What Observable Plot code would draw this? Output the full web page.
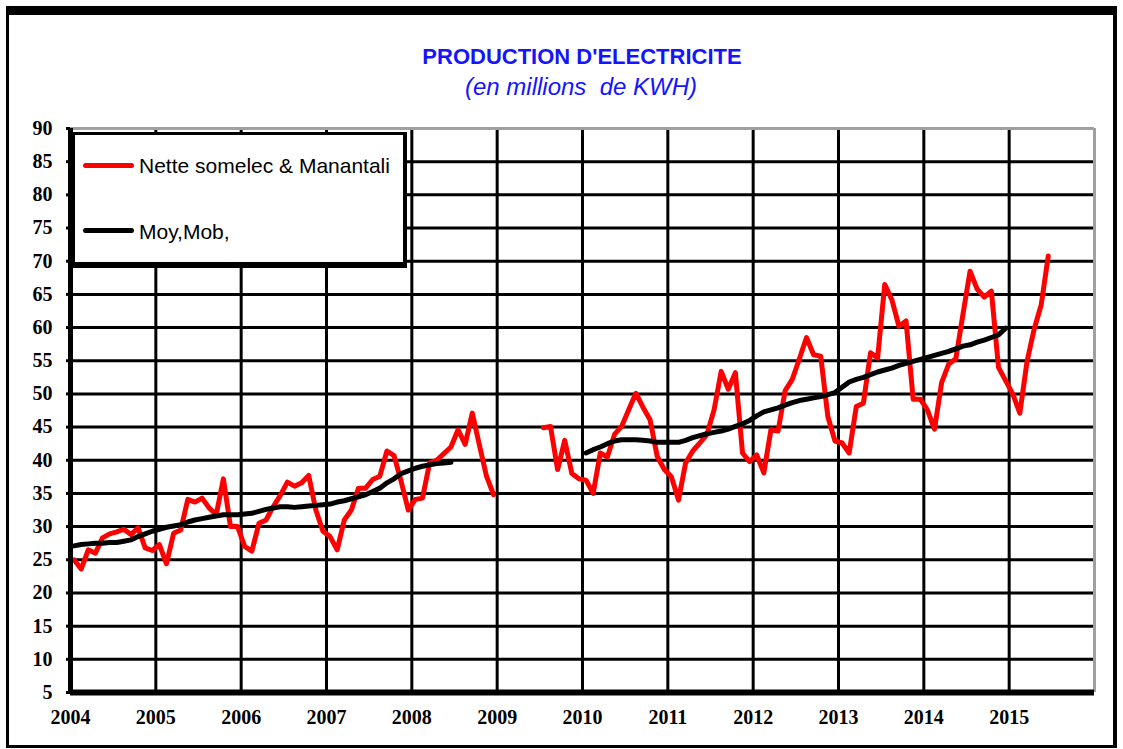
<!DOCTYPE html>
<html><head><meta charset="utf-8">
<script src="https://cdn.jsdelivr.net/npm/d3@7"></script>
<script src="https://cdn.jsdelivr.net/npm/@observablehq/plot@0.6"></script>
<style>
html,body{margin:0;padding:0;background:#fff;}
#page{position:relative;width:1123px;height:749px;overflow:hidden;background:#fff;}
#frame{position:absolute;left:6px;top:6px;width:1111px;height:742px;box-sizing:border-box;border-style:solid;border-color:#000;border-width:9px 4px 3px 3px;}
#title{position:absolute;left:0;width:1164px;top:46px;text-align:center;font:bold 22px/1 "Liberation Sans",Arial,sans-serif;color:#1414ff;white-space:pre;}
#subtitle{position:absolute;left:0;width:1162px;top:75px;text-align:center;font:italic 24px/1 "Liberation Sans",Arial,sans-serif;color:#1414ff;white-space:pre;}
#chart{position:absolute;left:0;top:100px;}
#legend{position:absolute;left:72px;top:132px;width:335px;height:136px;box-sizing:border-box;background:#fff;border-style:solid;border-color:#000;border-width:3px 4px 6px 3px;}
.swatch{position:absolute;left:83px;width:51px;height:5px;border-radius:3px;}
.ltext{position:absolute;left:139px;font:21px/1 "Liberation Sans",Arial,sans-serif;color:#000;white-space:pre;}
</style></head>
<body>
<div id="page">
  <div id="frame"></div>
  <div id="title">PRODUCTION D'ELECTRICITE</div>
  <div id="subtitle">(en millions  de KWH)</div>
  <div id="chart"></div>
  <div id="legend"></div>
  <div class="swatch" style="top:163px;background:#ff0000;"></div>
  <div class="ltext" style="top:155px;">Nette somelec &amp; Manantali</div>
  <div class="swatch" style="top:228px;background:#000;"></div>
  <div class="ltext" style="top:221px;">Moy,Mob,</div>
</div>
<script>
// Monthly values, January 2004 onward (null = no data)
const firstYear = 2004;
const years = [2004, 2005, 2006, 2007, 2008, 2009, 2010, 2011, 2012, 2013, 2014, 2015];
const yTicks = [5, 10, 15, 20, 25, 30, 35, 40, 45, 50, 55, 60, 65, 70, 75, 80, 85, 90];

// "Nette somelec & Manantali" (Jan 2004 – Jun 2015)
const nette = [
  25.0, 23.6, 26.5, 26.0, 28.3, 28.9, 29.2, 29.6, 28.8, 29.8, 26.8, 26.4,
  27.3, 24.4, 29.0, 29.5, 34.1, 33.7, 34.3, 32.8, 31.8, 37.2, 30.0, 30.0,
  27.0, 26.3, 30.5, 31.0, 33.0, 34.7, 36.7, 36.1, 36.6, 37.7, 32.5, 29.3,
  28.5, 26.5, 31.0, 32.5, 35.8, 35.8, 37.1, 37.6, 41.4, 40.7, 36.8, 32.5,
  34.1, 34.3, 39.6, 40.0, 41.0, 42.0, 44.6, 42.4, 47.1, 42.3, 37.6, 34.8,
  null, null, null, null, null, null, 44.9, 45.1, 38.6, 43.0, 38.0, 37.2,
  37.0, 35.0, 41.1, 40.5, 43.9, 45.1, 47.6, 50.1, 48.0, 46.1, 40.6, 38.6,
  37.5, 34.0, 39.6, 41.4, 42.6, 43.9, 47.6, 53.4, 50.7, 53.2, 41.1, 39.8,
  40.8, 38.1, 44.6, 44.4, 50.5, 52.2, 55.3, 58.5, 55.9, 55.7, 46.6, 42.9,
  42.6, 41.1, 48.1, 48.6, 56.2, 55.4, 66.5, 64.2, 60.2, 61.0, 49.2, 49.2,
  47.6, 44.7, 51.7, 54.5, 55.3, 62.0, 68.5, 65.8, 64.6, 65.5, 54.0, 52.0,
  50.0, 47.1, 54.8, 59.7, 63.4, 70.8
];

// "Moy,Mob," moving average (Jan 2004 – Dec 2014)
const moyMob = [
  27.1, 27.3, 27.4, 27.5, 27.5, 27.6, 27.6, 27.8, 28.0, 28.5, 28.9, 29.3,
  29.6, 29.9, 30.1, 30.3, 30.7, 31.0, 31.2, 31.4, 31.6, 31.8, 31.8, 31.8,
  31.9, 32.0, 32.3, 32.6, 32.8, 33.0, 33.0, 32.9, 33.0, 33.1, 33.2, 33.3,
  33.4, 33.7, 33.9, 34.2, 34.5, 34.8, 35.3, 35.8, 36.6, 37.2, 38.0, 38.4,
  38.8, 39.1, 39.3, 39.5, 39.6, 39.7, null, null, null, null, null, null,
  null, null, null, null, null, null, null, null, null, null, null, null,
  41.1, 41.6, 42.0, 42.5, 42.9, 43.1, 43.1, 43.1, 43.0, 42.9, 42.7, 42.7,
  42.7, 42.7, 43.0, 43.4, 43.7, 44.0, 44.2, 44.4, 44.7, 45.1, 45.5, 46.0,
  46.7, 47.3, 47.6, 47.9, 48.3, 48.7, 49.0, 49.2, 49.4, 49.6, 49.9, 50.2,
  51.0, 51.8, 52.2, 52.5, 52.9, 53.3, 53.6, 53.9, 54.3, 54.6, 54.9, 55.2,
  55.5, 55.8, 56.1, 56.4, 56.8, 57.2, 57.4, 57.8, 58.1, 58.5, 58.9, 59.9
];

// position each monthly value at mid-month
const toRows = arr => arr.map((v, i) => ({t: firstYear + (i + 0.5) / 12, v}));
const netteRows = toRows(nette);
const moyRows = toRows(moyMob);

const axisFont = {fontSize: 20, fontWeight: "bold", fontFamily: "Liberation Serif, Times New Roman, serif"};

const chart = Plot.plot({
  width: 1123,
  height: 640,
  marginLeft: 70,
  marginRight: 29,
  marginTop: 28,
  marginBottom: 48,
  x: {domain: [2004, 2016], axis: null},
  y: {domain: [5, 90], axis: null},
  style: {background: "transparent", color: "#000", overflow: "visible"},
  marks: [
    Plot.ruleY(yTicks.filter(v => v > 5 && v < 90), {stroke: "#000", strokeWidth: 3}),
    Plot.ruleX(years.filter(y => y > 2004), {stroke: "#000", strokeWidth: 3}),
    Plot.ruleY([90], {stroke: "#a0a0a0", strokeWidth: 3}),
    Plot.ruleX([2016], {stroke: "#a0a0a0", strokeWidth: 3}),
    Plot.line(netteRows, {x: "t", y: "v", stroke: "#ff0000", strokeWidth: 5, strokeLinejoin: "round", strokeLinecap: "round"}),
    Plot.line(moyRows, {x: "t", y: "v", stroke: "#000", strokeWidth: 5, strokeLinejoin: "round", strokeLinecap: "round"}),
    Plot.ruleX([2004], {stroke: "#000", strokeWidth: 5}),
    Plot.ruleY([5], {stroke: "#000", strokeWidth: 6}),
    Plot.axisY(yTicks, {tickSize: 4, tickPadding: 14, strokeWidth: 3, label: null, tickFormat: d => `${d}`, ...axisFont}),
    Plot.axisX(years, {tickSize: 0, tickPadding: 17, label: null, tickFormat: d => `${d}`, ...axisFont})
  ]
});
document.getElementById("chart").appendChild(chart);
</script>
</body></html>
